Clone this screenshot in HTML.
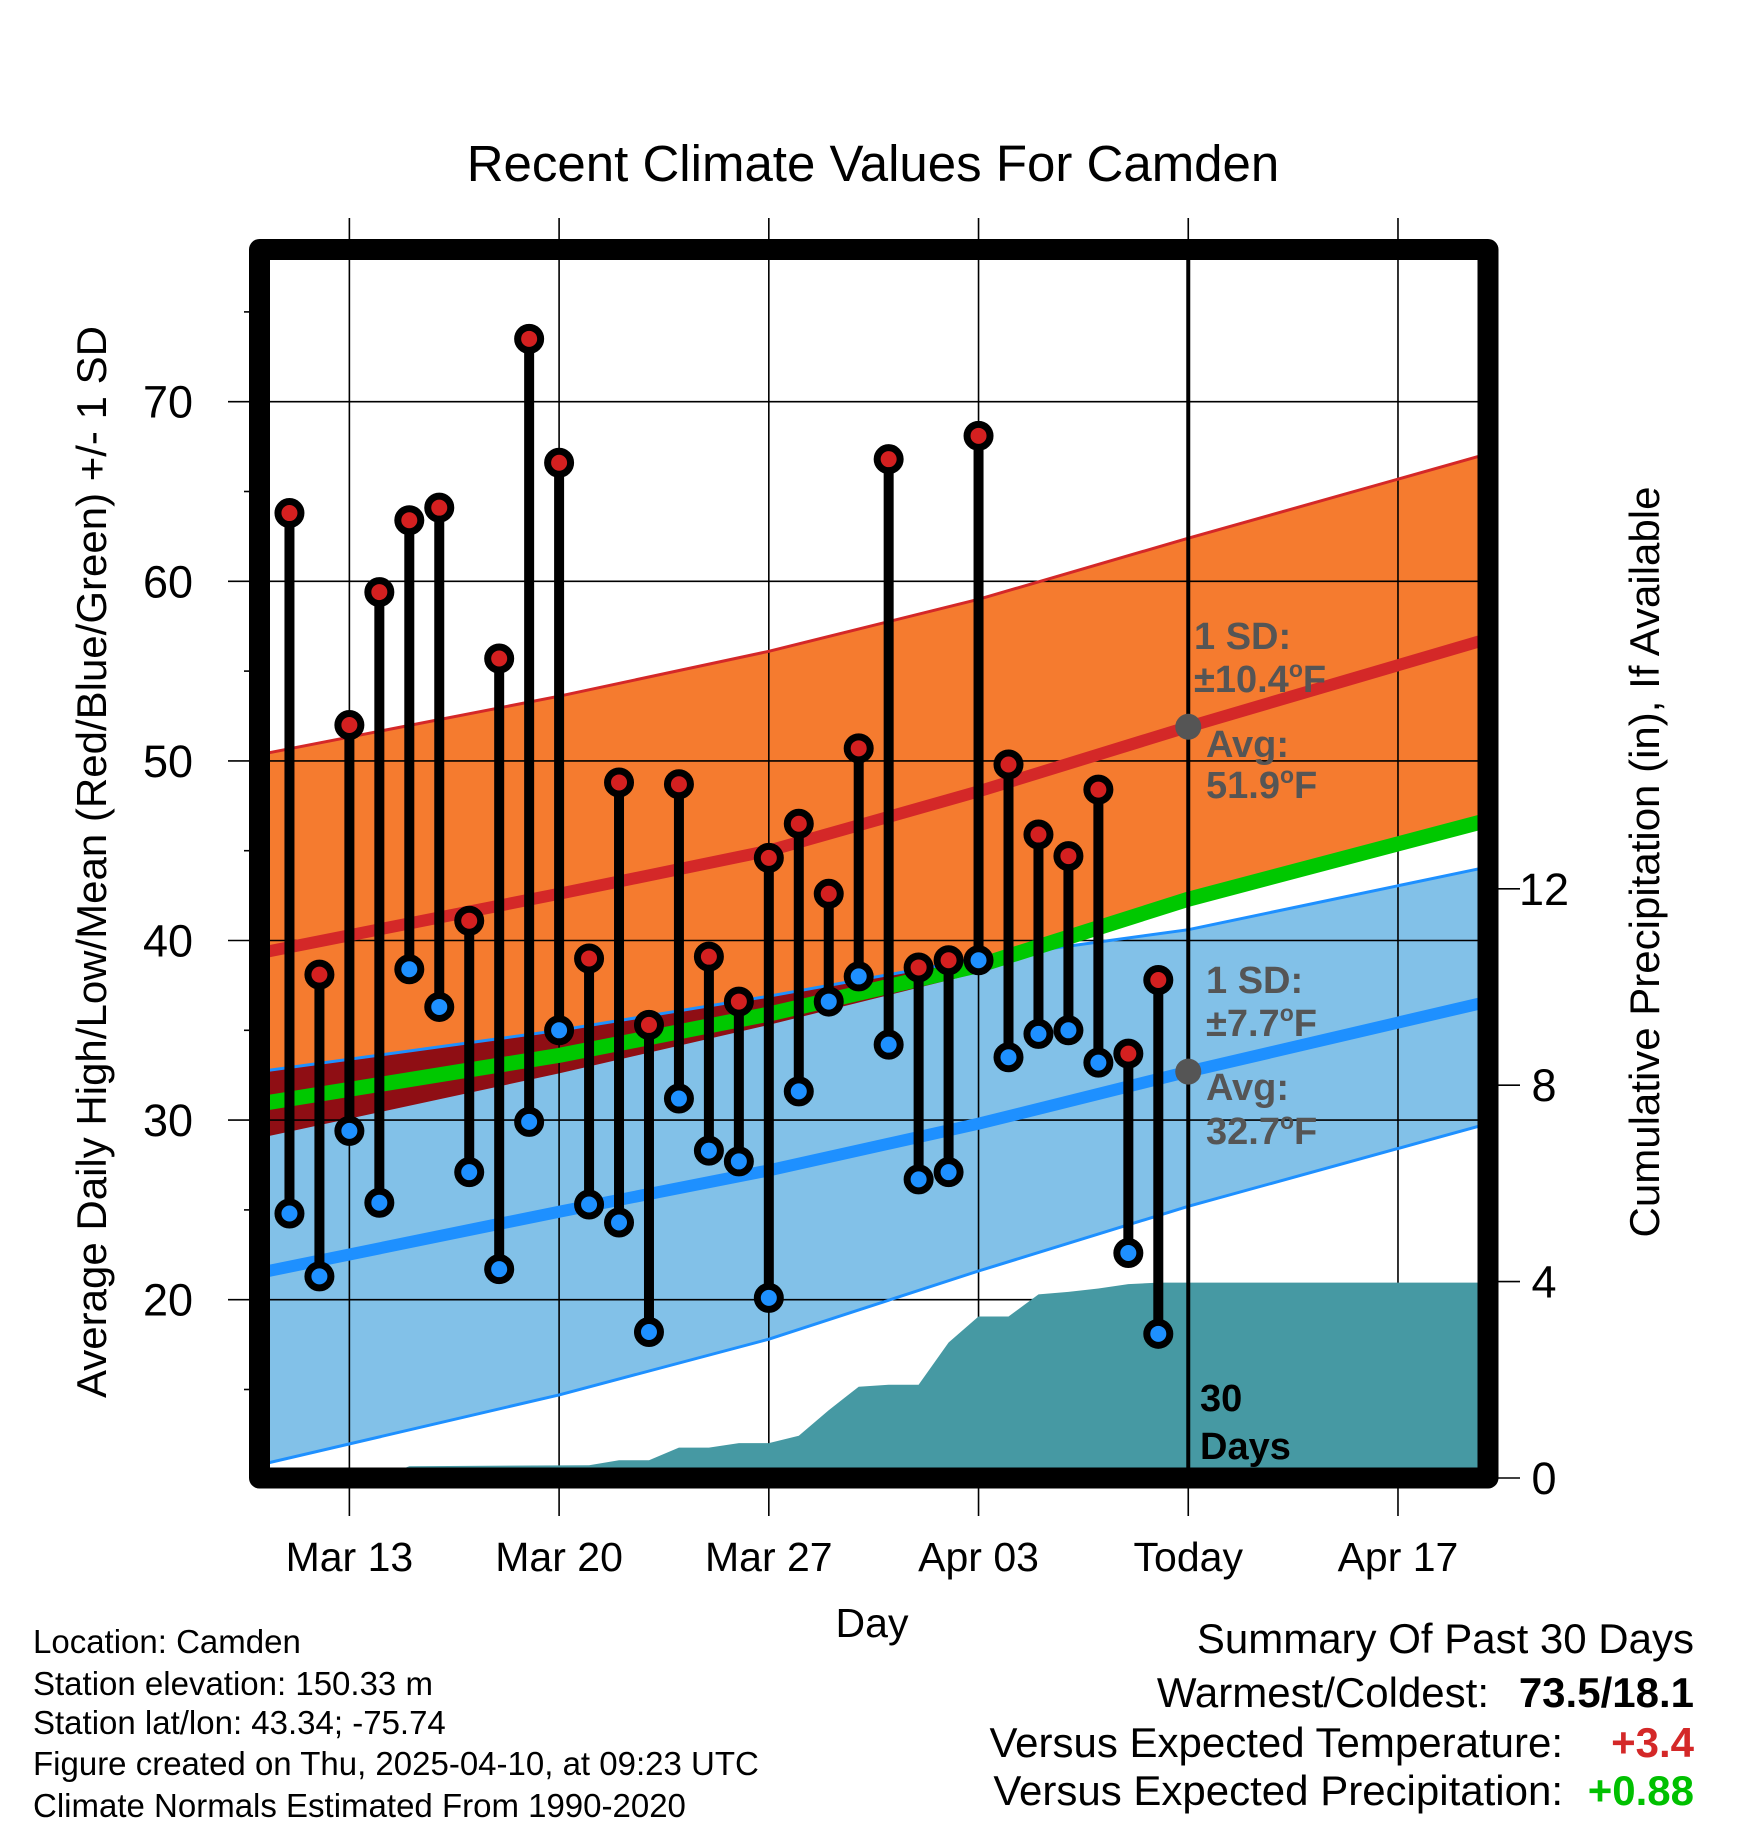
<!DOCTYPE html>
<html><head><meta charset="utf-8"><style>
html,body{margin:0;padding:0;background:#fff;}
svg{display:block;font-family:"Liberation Sans",sans-serif;}
</style></head><body>
<svg id="chart" width="1748" height="1828" viewBox="0 0 1748 1828" xmlns="http://www.w3.org/2000/svg">
<defs><clipPath id="plotclip"><rect x="269" y="260" width="1209" height="1208"/></clipPath></defs>
<text x="873" y="181" font-size="51" text-anchor="middle">Recent Climate Values For Camden</text>
<g id="fills" clip-path="url(#plotclip)"></g>
<g id="grid"></g>
<g id="precip" clip-path="url(#plotclip)"></g>
<g id="lines" clip-path="url(#plotclip)"></g>
<g id="marks"></g>
<g id="annot" font-weight="bold" font-size="38" fill="#555">
<text x="1194" y="649">1 SD:</text>
<text x="1194" y="692">±10.4<tspan font-size="23" dy="-15">o</tspan><tspan dy="15">F</tspan></text>
<text x="1206" y="757">Avg:</text>
<text x="1206" y="798">51.9<tspan font-size="23" dy="-15">o</tspan><tspan dy="15">F</tspan></text>
<text x="1206" y="993">1 SD:</text>
<text x="1206" y="1036">±7.7<tspan font-size="23" dy="-15">o</tspan><tspan dy="15">F</tspan></text>
<text x="1206" y="1100">Avg:</text>
<text x="1206" y="1144">32.7<tspan font-size="23" dy="-15">o</tspan><tspan dy="15">F</tspan></text>
<text x="1200" y="1411" fill="#000">30</text>
<text x="1200" y="1459" fill="#000">Days</text>
</g>
<rect x="259.5" y="249.5" width="1228.5" height="1228.5" fill="none" stroke="#000" stroke-width="21" stroke-linejoin="round"/>
<g id="axes"></g>
<text transform="translate(106,862) rotate(-90)" font-size="42" text-anchor="middle">Average Daily High/Low/Mean (Red/Blue/Green) +/- 1 SD</text>
<text transform="translate(1659,862) rotate(-90)" font-size="42" text-anchor="middle">Cumulative Precipitation (in), If Available</text>
<text x="872" y="1637" font-size="41" text-anchor="middle">Day</text>
<g font-size="33">
<text x="33" y="1653">Location: Camden</text>
<text x="33" y="1695">Station elevation: 150.33 m</text>
<text x="33" y="1734">Station lat/lon: 43.34; -75.74</text>
<text x="33" y="1775">Figure created on Thu, 2025-04-10, at 09:23 UTC</text>
<text x="33" y="1817">Climate Normals Estimated From 1990-2020</text>
</g>
<g font-size="42" text-anchor="end">
<text x="1694" y="1653">Summary Of Past 30 Days</text>
<text x="1489" y="1707">Warmest/Coldest:</text>
<text x="1694" y="1707" font-weight="bold">73.5/18.1</text>
<text x="1563" y="1757">Versus Expected Temperature:</text>
<text x="1694" y="1757" font-weight="bold" fill="#d42828">+3.4</text>
<text x="1563" y="1805">Versus Expected Precipitation:</text>
<text x="1694" y="1805" font-weight="bold" fill="#00c000">+0.88</text>
</g>
</svg>
<script>
// days since Mar 10
const knotDays = [0, 10, 17, 24, 31, 41];
const highMean = [39.3, 42.6, 45.0, 48.3, 51.9, 56.8];
const highUpper = [50.35, 53.6, 56.1, 59.0, 62.4, 67.1];
const highLower = [29.0, 32.6, 35.3, 38.2, 41.9, 46.4];
const meanTemp = [30.9, 33.6, 35.9, 38.6, 42.3, 46.7];
const lowMean = [21.5, 24.9, 27.2, 29.8, 32.7, 36.6];
const lowUpper = [32.7, 35.0, 36.9, 39.0, 40.6, 44.1];
const lowLower = [10.8, 14.7, 17.8, 21.6, 25.2, 29.8];
const obsDays = [1,2,3,4,5,6,7,8,9,10,11,12,13,14,15,16,17,18,19,20,21,22,23,24,25,26,27,28,29,30];
const highs = [63.8,38.1,52.0,59.4,63.4,64.1,41.1,55.7,73.5,66.6,39.0,48.8,35.3,48.7,39.1,36.6,44.6,46.5,42.6,50.7,66.8,38.5,38.9,68.1,49.8,45.9,44.7,48.4,33.7,37.8];
const lows = [24.8,21.3,29.4,25.4,38.4,36.3,27.1,21.7,29.9,35.0,25.3,24.3,18.2,31.2,28.3,27.7,20.1,31.6,36.6,38.0,34.2,26.7,27.1,38.9,33.5,34.8,35.0,33.2,22.6,18.1];
const precipDays = [0,4,5,11,12,13,14,15,16,17,18,19,20,21,22,23,24,25,26,27,28,29,30,41];
const precipCum = [0,0,0.24,0.26,0.36,0.36,0.62,0.62,0.71,0.71,0.86,1.38,1.86,1.9,1.9,2.76,3.29,3.29,3.74,3.79,3.86,3.95,3.98,3.98];
const xTickDays = [3,10,17,24,31,38];
const xTickLabels = ["Mar 13","Mar 20","Mar 27","Apr 03","Today","Apr 17"];
const yTicks = [20,30,40,50,60,70];
const yMinor = [15,25,35,45,55,65,75];
const y2Ticks = [0,4,8,12];
const todayDay = 31;
const todayHigh = 51.9, todayLow = 32.7;

const NS = "http://www.w3.org/2000/svg";
const X = d => 259.5 + d * 29.96;
const Y = v => 401.7 + (70 - v) * 17.96;
const YP = v => 1478 - v * 49.1;
function mk(tag, attrs, parent){const e=document.createElementNS(NS,tag);for(const k in attrs)e.setAttribute(k,attrs[k]);parent.appendChild(e);return e;}
function pts(days, vals, yf){return days.map((d,i)=>X(d).toFixed(1)+","+yf(vals[i]).toFixed(1));}
function band(up, lo){return pts(knotDays, up, Y).concat(pts(knotDays, lo, Y).reverse()).join(" ");}

const fills=document.getElementById('fills');
let e;
e=mk('polygon',{points:band(highUpper,highLower),fill:'#f57b2f'},fills);


e=mk('polygon',{points:band(lowUpper,lowLower),fill:'#82c1e8'},fills);


const defs=document.querySelector('defs');
const cp=mk('clipPath',{id:'orangeclip'},defs);
mk('polygon',{points:band(highUpper,highLower)},cp);
e=mk('polygon',{points:band(lowUpper,lowLower),fill:'#8f0e14','clip-path':'url(#orangeclip)'},fills);



const grid=document.getElementById('grid');
xTickDays.forEach((d,i)=>{
  e=mk('line',{x1:X(d),x2:X(d),y1:218,y2:1516,stroke:'#000','stroke-width':1.6},grid);
  
  
});
yTicks.forEach(v=>{
  e=mk('line',{x1:228,x2:1478,y1:Y(v),y2:Y(v),stroke:'#000','stroke-width':1.6},grid);
  
  
});

const pr=document.getElementById('precip');
const pp=pts(precipDays,precipCum,YP);
e=mk('polygon',{points:X(0)+","+YP(0)+" "+pp.join(" ")+" "+X(41)+","+YP(0),fill:'#4699a3'},pr);



const ln=document.getElementById('lines');
function pl(vals,color,w,name){
  const p=mk('polyline',{points:pts(knotDays,vals,Y).join(" "),fill:'none',stroke:color,'stroke-width':w,'stroke-linejoin':'round'},ln);
  
  
}
pl(highUpper,'#d42828',3,'high-upper-edge');
pl(lowUpper,'#1e90ff',3,'low-upper-edge');
pl(lowLower,'#1e90ff',3,'low-lower-edge');
pl(highMean,'#d42828',12,'normal-high-line');
pl(lowMean,'#1e90ff',12,'normal-low-line');
pl(meanTemp,'#00c800',15,'normal-mean-line');

const mg=document.getElementById('marks');
obsDays.forEach((d,i)=>{
  e=mk('line',{x1:X(d),x2:X(d),y1:Y(highs[i]),y2:Y(lows[i]),stroke:'#000','stroke-width':10},mg);
  
  
});
obsDays.forEach((d,i)=>{
  e=mk('circle',{cx:X(d),cy:Y(highs[i]),r:11.5,fill:'#d42020',stroke:'#000','stroke-width':7},mg);
  
  
  e=mk('circle',{cx:X(d),cy:Y(lows[i]),r:11.5,fill:'#1e90ff',stroke:'#000','stroke-width':7},mg);
  
  
});
e=mk('line',{x1:X(todayDay),x2:X(todayDay),y1:250,y2:1478,stroke:'#000','stroke-width':4},mg);


e=mk('circle',{cx:X(todayDay),cy:Y(todayHigh),r:13,fill:'#555'},mg);


e=mk('circle',{cx:X(todayDay),cy:Y(todayLow),r:13,fill:'#555'},mg);



const ax=document.getElementById('axes');
xTickDays.forEach((d,i)=>{
  e=mk('text',{x:X(d),y:1571,'font-size':41,'text-anchor':'middle'},ax);
  e.textContent=xTickLabels[i];
  
  
});
yTicks.forEach(v=>{
  e=mk('text',{x:193,y:Y(v)+16,'font-size':45,'text-anchor':'end'},ax);
  e.textContent=String(v);
  
  
});
yMinor.forEach(v=>{
  e=mk('line',{x1:244,x2:250,y1:Y(v),y2:Y(v),stroke:'#000','stroke-width':1.6},ax);
  
  
});
y2Ticks.forEach(v=>{
  e=mk('line',{x1:1498,x2:1520,y1:YP(v),y2:YP(v),stroke:'#000','stroke-width':1.6},ax);
  
  
  e=mk('text',{x:1544,y:YP(v)+16,'font-size':45,'text-anchor':'middle'},ax);
  e.textContent=String(v);
  
  
});
</script>
</body></html>
